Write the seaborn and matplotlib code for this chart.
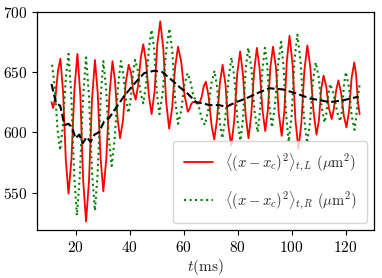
import matplotlib
matplotlib.use("Agg")
import matplotlib.pyplot as plt
import seaborn as sns
import pandas as pd

# --- data (extrema plus shoulder points) ---
red_t = [11.0, 11.6, 12.5, 13.4, 14.3, 15.3, 16.3, 17.3, 18.4, 19.5, 20.6, 21.7, 22.7,
         23.8, 24.9, 26.0, 27.1, 28.1, 29.2, 30.2, 31.3, 32.5, 33.6, 34.5, 35.5,
         36.4, 37.5, 38.5, 39.6, 40.5, 41.3, 42.2, 43.1, 44.1, 45.0, 46.0, 47.1,
         48.1, 49.2, 50.2, 51.3, 52.4, 53.5, 54.6, 55.7, 56.8, 57.9, 59.1, 60.3,
         61.5, 62.1, 62.7, 63.3, 64.1, 65.0, 65.8, 66.6, 67.4, 68.2, 69.2, 70.3,
         71.3, 72.3, 73.4, 74.4, 75.5, 76.5, 77.6, 78.7, 79.8, 80.9, 81.9, 83.0,
         84.0, 85.0, 86.1, 87.1, 88.1, 89.2, 90.2, 91.2, 92.1, 93.1, 94.2, 95.2,
         96.3, 97.3, 98.2, 99.2, 100.3, 101.4, 102.5, 103.6, 104.7, 105.8, 106.9,
         108.1, 109.2, 110.1, 110.9, 111.8, 112.8, 113.8, 114.8, 115.6, 116.5,
         117.3, 118.3, 119.3, 120.3, 121.3, 122.2, 123.2, 123.9, 124.5, 125.2]
red_v = [625, 620, 630, 651, 661, 633, 577, 549, 578, 636, 665, 630, 561,
         526, 560, 627, 660, 633, 578, 551, 578, 632, 659, 643, 611,
         595, 610, 641, 656, 649, 634, 627, 639, 662, 673, 659, 630,
         615, 634, 673, 692, 670, 625, 603, 620, 654, 671, 658, 631,
         617, 619, 623, 625, 625, 624, 624, 629, 638, 642, 630, 606,
         594, 610, 641, 656, 639, 606, 589, 609, 648, 667, 649, 613,
         595, 614, 651, 670, 653, 618, 601, 619, 654, 671, 653, 616,
         597, 618, 659, 680, 657, 610, 586, 608, 651, 672, 654,
         617, 598, 610, 635, 647, 638, 620, 611, 619, 635,
         643, 633, 614, 604, 618, 645, 658, 647, 626, 615]

green_t = [11.2, 12.2, 13.2, 14.2, 15.2, 16.3, 17.3, 18.3, 19.4, 20.4, 21.5, 22.7,
           23.8, 24.9, 26.0, 27.1, 28.1, 29.2, 30.2, 31.2, 32.3, 33.3, 34.4, 35.6,
           36.7, 37.6, 38.6, 39.5, 40.3, 41.2, 42.0, 43.0, 44.0, 45.0, 46.0, 47.1,
           48.1, 49.1, 50.0, 51.0, 52.2, 53.5, 54.7, 55.8, 56.8, 57.9, 59.1, 60.2,
           61.4, 62.4, 63.4, 64.4, 65.5, 66.7, 67.8, 69.0, 70.2, 71.4, 72.4, 73.3,
           74.3, 75.4, 76.6, 77.7, 78.8, 79.9, 81.0, 82.0, 82.9, 83.9, 85.1, 86.2,
           87.4, 88.3, 89.2, 90.1, 91.0, 91.8, 92.7, 93.8, 95.0, 96.1, 97.0, 98.0,
           98.9, 100.0, 101.0, 102.1, 103.3, 104.5, 105.7, 106.8, 107.8, 108.9,
           110.0, 111.1, 112.2, 112.9, 113.6, 114.3, 115.5, 116.8, 118.0, 118.7,
           119.4, 120.1, 121.2, 122.2, 123.3, 123.9, 124.6, 125.2]
green_v = [656, 638, 603, 585, 605, 645, 665, 632, 565, 531, 564, 629,
           662, 630, 567, 535, 566, 628, 659, 637, 594, 572, 594, 637,
           659, 648, 627, 616, 627, 649, 660, 651, 633, 624, 639, 670,
           685, 668, 633, 615, 633, 668, 686, 666, 627, 607, 618, 639,
           649, 643, 632, 626, 622, 611, 606, 617, 640, 651, 637, 609,
           595, 612, 645, 662, 645, 610, 593, 612, 651, 670, 653, 618,
           600, 618, 653, 670, 654, 621, 604, 622, 657, 675, 654, 613,
           592, 614, 659, 681, 659, 614, 591, 608, 641, 658,
           646, 621, 608, 616, 632, 640, 632, 617, 609, 619,
           640, 650, 638, 614, 602, 612, 630, 640]

black_t = [11.0, 12.7, 14.2, 15.8, 17.3, 18.6, 19.9, 21.3, 22.6, 24.0, 25.5, 26.9,
           28.6, 30.5, 32.4, 34.2, 37.9, 41.6, 45.3, 49.0, 52.0, 55.7, 58.7, 61.0,
           64.6, 67.0, 69.5, 73.2, 75.7, 79.4, 83.1, 86.8, 91.7, 96.9, 101.9,
           106.8, 110.5, 114.2, 119.1, 124.7]
black_v = [640, 624, 622, 606, 607, 604, 595, 598, 591, 596, 592, 598,
           600, 609, 612, 618, 630, 640, 649, 651, 650, 643, 637, 633,
           625, 624, 622.5, 622.5, 621, 625, 628, 632, 636.5, 635.5, 632,
           628, 626.5, 625, 626.5, 629.5]

label_L = r"$\left\langle (x-x_c)^2 \right\rangle_{t,L}$ $(\mu\mathrm{m}^2)$"
label_R = r"$\left\langle (x-x_c)^2 \right\rangle_{t,R}$ $(\mu\mathrm{m}^2)$"
xlabel = r"$t(\mathrm{ms})$"

sns.set_style("white")
plt.rcParams["font.family"] = "serif"
plt.rcParams["font.serif"] = ["cmr10", "DejaVu Serif"]
plt.rcParams["mathtext.fontset"] = "cm"
plt.rcParams["axes.unicode_minus"] = False
plt.rcParams["axes.formatter.use_mathtext"] = True

fig = plt.figure(figsize=(3.82, 2.78), dpi=100)
ax = fig.add_axes([0.096, 0.173, 0.883, 0.785])

red = pd.DataFrame({"t": red_t, "v": red_v})
green = pd.DataFrame({"t": green_t, "v": green_v})
black = pd.DataFrame({"t": black_t, "v": black_v})

sns.lineplot(data=red, x="t", y="v", ax=ax, color="red", lw=1.3,
             sort=False, estimator=None, label=label_L)
sns.lineplot(data=green, x="t", y="v", ax=ax, color="green", lw=1.5,
             linestyle=":", sort=False, estimator=None, label=label_R)
sns.lineplot(data=black, x="t", y="v", ax=ax, color="black", lw=1.5,
             linestyle="--", sort=False, estimator=None, label="_nolegend_")

ax.set_xlim(5.5, 130.5)
ax.set_ylim(519, 700)
ax.set_xticks([20, 40, 60, 80, 100, 120])
ax.set_yticks([550, 600, 650, 700])
ax.set_xlabel(xlabel, fontsize=11, labelpad=2)
ax.set_ylabel("")
ax.tick_params(axis="both", labelsize=11, direction="out", length=3.5,
               width=0.8, left=True, bottom=True, colors="black")
for s in ax.spines.values():
    s.set_color("black")
    s.set_linewidth(0.9)

ax.legend(loc="lower right", fontsize=10.5, frameon=True, framealpha=0.8,
          handlelength=2.0, labelspacing=1.1, borderpad=0.72)

fig.savefig("out.png", dpi=100)
